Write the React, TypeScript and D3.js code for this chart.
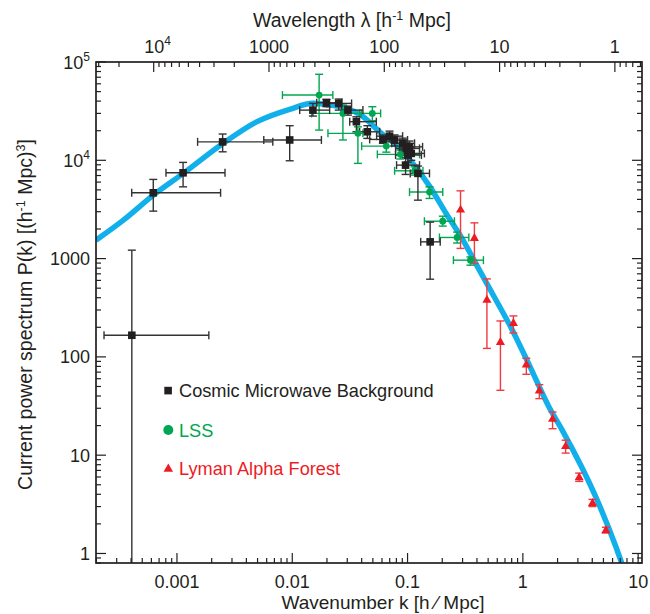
import React from "react";
import * as d3 from "d3";

// ---- Model curve ----
const curveK = [1.985e-4, 3.43e-4, 6.24e-4, 1.135e-3, 2.52e-3, 4.9e-3, 9.5e-3, 0.0151, 0.0211, 0.0294, 0.0407, 0.0572, 0.0798, 0.111, 0.155, 0.216, 0.299, 0.42, 0.586, 0.811, 1.14, 1.69, 2.2, 4.3, 6.41, 7.2];
const curveP = [1540, 2460, 4420, 7360, 14900, 24600, 33000, 38000, 36600, 33900, 28100, 19500, 14300, 9300, 5460, 2880, 1580, 762, 377, 187, 82, 30.7, 17.9, 3.74, 1.17, 0.8];

// ---- Cosmic Microwave Background ----
const cmbK = [4.06e-4, 6.23e-4, 1.13e-3, 2.49e-3, 9.5e-3, 0.0151, 0.0198, 0.0253, 0.0304, 0.036, 0.0448, 0.0611, 0.0698, 0.0772, 0.091, 0.0975, 0.104, 0.1006, 0.1077, 0.0961, 0.123, 0.157];
const cmbP = [166, 4670, 7460, 15400, 16100, 32400, 38500, 37900, 32400, 24700, 19500, 16300, 17600, 16100, 14900, 13200, 13700, 11300, 11750, 8930, 7360, 1480];
const cmbKLo = [2.33e-4, 4.05e-4, 8.03e-4, 1.51e-3, 5.66e-3, 0.0116, 0.0163, 0.0199, 0.0267, 0.0315, 0.0384, 0.0469, 0.0539, 0.0608, 0.0727, 0.0787, 0.0853, 0.0787, 0.0887, 0.0803, 0.1055, 0.13];
const cmbKHi = [1.89e-3, 2.39e-3, 2.61e-3, 6.78e-3, 0.0179, 0.0211, 0.0268, 0.0327, 0.041, 0.0536, 0.0573, 0.0771, 0.0906, 0.1, 0.115, 0.127, 0.135, 0.132, 0.14, 0.127, 0.155, 0.192];
const cmbPLo = [0.3, 3040, 5370, 12200, 9890, 28200, 35100, 32400, 28800, 19500, 16700, 14900, 15400, 13960, 13000, 11800, 12100, 9590, 10000, 7180, 3930, 617];
const cmbPHi = [1218, 6390, 9520, 18500, 22500, 37900, 41700, 42000, 35600, 27700, 22500, 18100, 19800, 18100, 16800, 15000, 15700, 13300, 13600, 10600, 8730, 2350];

// ---- Large Scale Structure ----
const lssK = [0.0171, 0.0275, 0.0371, 0.0495, 0.0654, 0.0865, 0.115, 0.155, 0.202, 0.269, 0.351];
const lssP = [46100, 30000, 18800, 30000, 13950, 11500, 7820, 4750, 2400, 1640, 964];
const lssKLo = [8.22e-3, 0.0147, 0.0204, 0.0384, 0.04, 0.0547, 0.0772, 0.104, 0.14, 0.189, 0.25];
const lssKHi = [0.0225, 0.0397, 0.041, 0.0584, 0.0853, 0.127, 0.136, 0.202, 0.255, 0.34, 0.455];
const lssPLo = [20300, 16100, 9300, 25300, 12100, 10300, 7070, 4090, 2140, 1440, 857];
const lssPHi = [75000, 36500, 21900, 35100, 16100, 12700, 8590, 5370, 2700, 1860, 1040];

// ---- Lyman Alpha Forest ----
const lyaK = [0.288, 0.38, 0.488, 0.639, 0.828, 1.072, 1.39, 1.81, 2.35, 3.08, 4.02, 5.25];
const lyaP = [3160, 1625, 383, 142, 222, 84, 45.7, 23.5, 12.4, 5.98, 3.28, 1.73];
const lyaPLo = [1270, 891, 122, 45.7, 175, 66.5, 37.6, 18.6, 10.5, 5.41, 3.0, 1.62];
const lyaPHi = [4890, 2310, 621, 232, 261, 96.8, 52.2, 27.5, 14.2, 6.57, 3.55, 1.85];

// ---- Tick labels ----
const kTickValues = [0.001, 0.01, 0.1, 1, 10];
const kTickLabels = ["0.001", "0.01", "0.1", "1", "10"];
const lambdaTickValues = [1e4, 1000, 100, 10, 1];
const lambdaTickBase = ["10", "1000", "100", "10", "1"];
const lambdaTickSup = ["4", "", "", "", ""];
const pTickValues = [1, 10, 100, 1000, 1e4, 1e5];
const pTickBase = ["1", "10", "100", "1000", "10", "10"];
const pTickSup = ["", "", "", "", "4", "5"];

const legendLabels = ["Cosmic Microwave Background", "LSS", "Lyman Alpha Forest"];

const FONT = "'Liberation Sans', Arial, Helvetica, sans-serif";
const INK = "#231f20";
const GREEN = "#00a651";
const RED = "#ed1c24";
const BLUE = "#12b0ea";

export default function App() {
  const L = 96, R = 642, T = 62, B = 563;
  const x = d3.scaleLog().domain([1.985e-4, 10.8]).range([L, R]);
  const y = d3.scaleLog().domain([0.8, 1e5]).range([B, T]);
  const twoPi = 2 * Math.PI;
  const xl = d3.scaleLog().domain([twoPi / 1.985e-4, twoPi / 10.8]).range([L, R]);

  const isMajor = (v: number) => Math.abs(Math.log10(v) - Math.round(Math.log10(v))) < 1e-6;

  const line = d3
    .line<number>()
    .x((_, i) => x(curveK[i]))
    .y((_, i) => y(curveP[i]))
    .curve(d3.curveMonotoneX);

  const cap = 4;
  const errH = (k0: number, k1: number, p: number, color: string, key: string) => (
    <g key={key} stroke={color} strokeWidth={1.4} fill="none">
      <line x1={x(k0)} x2={x(k1)} y1={y(p)} y2={y(p)} />
      <line x1={x(k0)} x2={x(k0)} y1={y(p) - cap} y2={y(p) + cap} />
      <line x1={x(k1)} x2={x(k1)} y1={y(p) - cap} y2={y(p) + cap} />
    </g>
  );
  const errV = (k: number, p0: number, p1: number, color: string, key: string) => (
    <g key={key} stroke={color} strokeWidth={1.4} fill="none">
      <line x1={x(k)} x2={x(k)} y1={y(p0)} y2={y(p1)} />
      <line x1={x(k) - cap} x2={x(k) + cap} y1={y(p0)} y2={y(p0)} />
      <line x1={x(k) - cap} x2={x(k) + cap} y1={y(p1)} y2={y(p1)} />
    </g>
  );

  const tri = (cx: number, cy: number, s: number) =>
    `M${cx},${cy - s}L${cx + s * 0.95},${cy + s * 0.65}L${cx - s * 0.95},${cy + s * 0.65}Z`;

  const kTicks = x.ticks();
  const lTicks = xl.ticks();
  const pTicks = y.ticks();

  return (
    <svg
      width={650}
      height={614}
      style={{ position: "absolute", left: 0, top: 0, background: "#fff" }}
      fontFamily={FONT}
    >
      <defs>
        <clipPath id="plotclip">
          <rect x={L} y={T} width={R - L} height={B - T} />
        </clipPath>
      </defs>

      {/* model curve */}
      <g clipPath="url(#plotclip)">
        <path d={line(curveK) || ""} fill="none" stroke={BLUE} strokeWidth={5.5} strokeLinecap="butt" />
      </g>

      {/* data */}
      <g clipPath="url(#plotclip)">
        {lssK.map((k, i) => (
          <g key={"l" + i}>
            {errH(lssKLo[i], lssKHi[i], lssP[i], GREEN, "lh" + i)}
            {errV(k, lssPLo[i], lssPHi[i], GREEN, "lv" + i)}
          </g>
        ))}
        {cmbK.map((k, i) => (
          <g key={"c" + i}>
            {errH(cmbKLo[i], cmbKHi[i], cmbP[i], "#333333", "ch" + i)}
            {errV(k, cmbPLo[i], cmbPHi[i], "#333333", "cv" + i)}
          </g>
        ))}
        {lyaK.map((k, i) => errV(k, lyaPLo[i], lyaPHi[i], "#ef3a42", "yv" + i))}
        {lssK.map((k, i) => (
          <circle key={"lm" + i} cx={x(k)} cy={y(lssP[i])} r={3.4} fill={GREEN} />
        ))}
        {cmbK.map((k, i) => (
          <rect key={"cm" + i} x={x(k) - 3.8} y={y(cmbP[i]) - 3.8} width={7.6} height={7.6} fill={INK} />
        ))}
        {lyaK.map((k, i) => (
          <path key={"ym" + i} d={tri(x(k), y(lyaP[i]), 4.8)} fill={RED} />
        ))}
      </g>

      {/* frame */}
      <rect x={L} y={T} width={R - L} height={B - T} fill="none" stroke={INK} strokeWidth={1.7} />

      {/* ticks */}
      <g stroke={INK} strokeWidth={1.2}>
        {kTicks.map((v, i) => {
          const len = isMajor(v) ? 10 : 5;
          return <line key={"kt" + i} x1={x(v)} x2={x(v)} y1={B} y2={B - len} />;
        })}
        {lTicks.map((v, i) => {
          const len = isMajor(v) ? 10 : 5;
          return <line key={"lt" + i} x1={xl(v)} x2={xl(v)} y1={T} y2={T + len} />;
        })}
        {pTicks.map((v, i) => {
          const len = isMajor(v) ? 10 : 5;
          return (
            <g key={"pt" + i}>
              <line x1={L} x2={L + len} y1={y(v)} y2={y(v)} />
              <line x1={R} x2={R - len} y1={y(v)} y2={y(v)} />
            </g>
          );
        })}
      </g>

      {/* tick labels */}
      <g fill={INK} fontSize={18}>
        {kTickValues.map((v, i) => (
          <text key={"kl" + i} x={x(v)} y={588} textAnchor="middle">
            {kTickLabels[i]}
          </text>
        ))}
        {lambdaTickValues.map((v, i) => (
          <text key={"ll" + i} x={xl(v) + (lambdaTickSup[i] ? 4 : 0)} y={53} textAnchor="middle">
            {lambdaTickBase[i]}
            {lambdaTickSup[i] && (
              <tspan dy={-8} fontSize={12}>
                {lambdaTickSup[i]}
              </tspan>
            )}
          </text>
        ))}
        {pTickValues.map((v, i) => (
          <text key={"pl" + i} x={90} y={y(v) + 6.5} textAnchor="end">
            {pTickBase[i]}
            {pTickSup[i] && (
              <tspan dy={-8} fontSize={12}>
                {pTickSup[i]}
              </tspan>
            )}
          </text>
        ))}
      </g>

      {/* axis titles */}
      <g fill={INK}>
        <text x={352} y={27} textAnchor="middle" fontSize={19.5}>
          Wavelength λ [h<tspan dy={-7} fontSize={12.5}>-1</tspan>
          <tspan dy={7}> Mpc]</tspan>
        </text>
        <text x={383} y={609} textAnchor="middle" fontSize={19}>
          Wavenumber k [h ⁄ Mpc]
        </text>
        <text transform={`translate(32,${(T + B) / 2 + 2}) rotate(-90)`} textAnchor="middle" fontSize={19.5}>
          Current power spectrum P(k) [(h<tspan dy={-7} fontSize={12.5}>-1</tspan>
          <tspan dy={7}> Mpc)</tspan>
          <tspan dy={-7} fontSize={12.5}>3</tspan>
          <tspan dy={7}>]</tspan>
        </text>
      </g>

      {/* legend */}
      <g fontSize={18.2}>
        <rect x={164.3} y={386.8} width={7.6} height={7.6} fill={INK} />
        <text x={179} y={397} fill={INK}>{legendLabels[0]}</text>
        <circle cx={168.3} cy={430} r={5} fill={GREEN} />
        <text x={179} y={436.5} fill={GREEN}>{legendLabels[1]}</text>
        <path d={tri(168.3, 468.5, 5)} fill={RED} />
        <text x={179} y={475} fill={RED}>{legendLabels[2]}</text>
      </g>
    </svg>
  );
}
